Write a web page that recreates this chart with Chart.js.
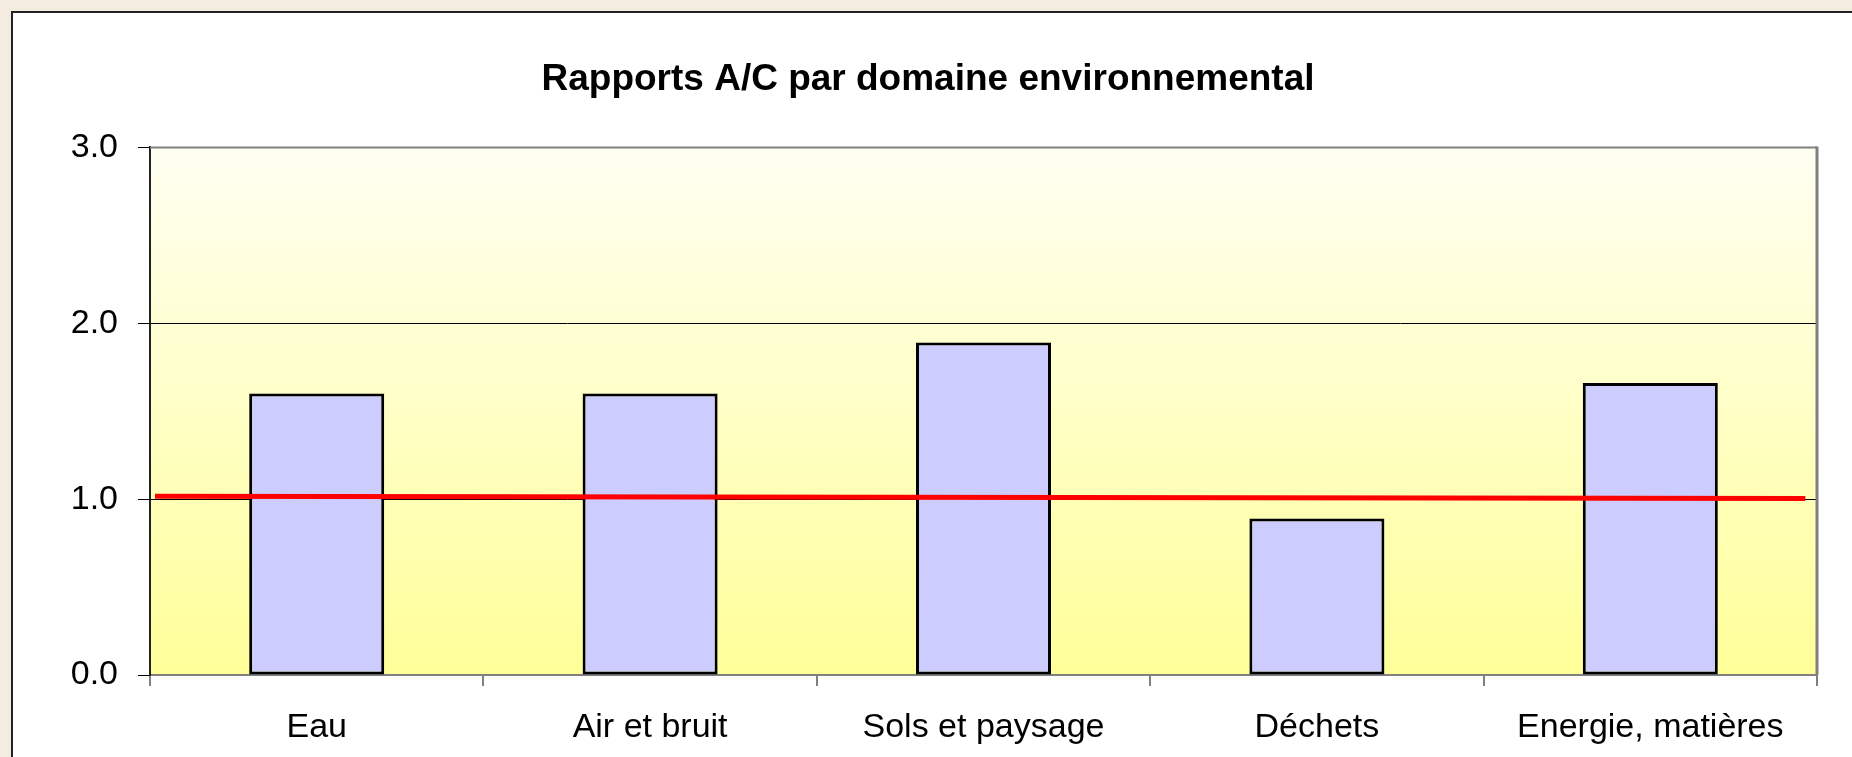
<!DOCTYPE html>
<html lang="fr">
<head>
<meta charset="utf-8">
<title>Rapports A/C par domaine environnemental</title>
<script src="https://cdn.jsdelivr.net/npm/chart.js@4"></script>
<style>
  html, body { margin: 0; padding: 0; overflow: hidden; background: #f4ebe1; }
  .frame {
    position: absolute; left: 11px; top: 11px;
    width: 1860px; height: 760px;
    background: #fff;
    border-left: 2px solid #222; border-top: 2px solid #222;
  }
  .box { position: absolute; left: 0; top: 0; width: 1839px; height: 744px; }
</style>
</head>
<body>
<div class="frame"><div class="box"><canvas id="chart"></canvas></div></div>
<script>
// ── Data ─────────────────────────────────────────────────
const categories = ['Eau', 'Air et bruit', 'Sols et paysage', 'Déchets', 'Energie, matières'];
const ratios     = [1.60, 1.60, 1.89, 0.89, 1.66];
const yTicks     = [0, 1, 2, 3];
// ligne de référence (rouge), x en unités de catégorie
const refLineX   = [-0.485, 4.465];
const refLineY   = [1.017, 1.003];

// ── Plugins ─────────────────────────────────────────────
const plotBg = {
  id: 'plotBg',
  beforeDraw(chart) {
    const { ctx, chartArea: a } = chart;
    const g = ctx.createLinearGradient(0, a.top, 0, a.bottom);
    g.addColorStop(0, '#fffff2');
    g.addColorStop(1, '#ffff99');
    ctx.save();
    ctx.fillStyle = g;
    ctx.fillRect(a.left, a.top, a.right - a.left, a.bottom - a.top);
    ctx.restore();
  },
  afterDraw(chart) {
    const { ctx, chartArea: a } = chart;
    ctx.save();
    ctx.strokeStyle = '#808080';
    ctx.lineWidth = 2;
    ctx.beginPath(); ctx.moveTo(a.left, a.top); ctx.lineTo(a.right, a.top); ctx.stroke();
    ctx.lineWidth = 3;
    ctx.beginPath(); ctx.moveTo(a.right, a.top - 1); ctx.lineTo(a.right, a.bottom); ctx.stroke();
    ctx.restore();
  }
};

const font = 'Liberation Sans, Arial, sans-serif';

new Chart(document.getElementById('chart'), {
  type: 'bar',
  data: {
    labels: categories,
    datasets: [
      {
        type: 'line',
        data: refLineX.map((x, i) => ({ x, y: refLineY[i] })),
        xAxisID: 'x2',
        borderColor: '#ff0000',
        borderWidth: 5,
        pointRadius: 0,
        fill: false,
        order: 0
      },
      {
        data: ratios,
        backgroundColor: '#ccccff',
        borderColor: '#000',
        borderWidth: 3,
        borderSkipped: false,
        grouped: false,
        categoryPercentage: 1,
        barPercentage: 0.405,
        order: 1
      }
    ]
  },
  options: {
    responsive: true,
    maintainAspectRatio: false,
    animation: false,
    layout: { padding: { left: 26, right: 35, top: 0, bottom: 0 } },
    plugins: {
      legend: { display: false },
      tooltip: { enabled: false },
      title: {
        display: true,
        text: 'Rapports A/C par domaine environnemental',
        color: '#000',
        font: { family: font, size: 37, weight: 'bold' },
        padding: { top: 45, bottom: 45 }
      }
    },
    scales: {
      x: {
        type: 'category',
        offset: true,
        grid: { offset: true, drawOnChartArea: false, drawTicks: true, tickLength: 11, color: '#808080', lineWidth: 2 },
        border: { color: '#808080', width: 2 },
        ticks: { color: '#000', padding: 21, maxRotation: 0, font: { family: font, size: 34 } },
        afterFit: s => { s.height = 82; }
      },
      x2: { type: 'linear', display: false, offset: false, grid: { offset: false }, min: -0.5, max: 4.5 },
      y: {
        min: 0, max: 3,
        afterBuildTicks: s => { s.ticks = yTicks.map(v => ({ value: v })); },
        grid: { color: '#000', lineWidth: 1, tickLength: 12, drawTicks: true },
        border: { color: '#222', width: 2 },
        ticks: { color: '#000', padding: 20, font: { family: font, size: 34 }, callback: v => v.toFixed(1) },
        afterFit: s => { s.width = 111; }
      }
    }
  },
  plugins: [plotBg]
});
</script>
</body>
</html>
